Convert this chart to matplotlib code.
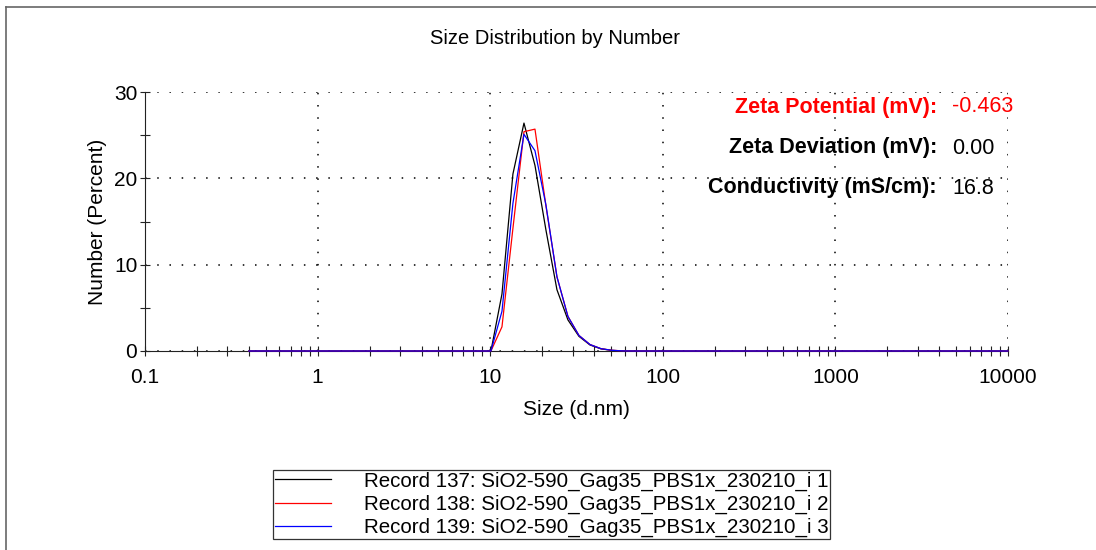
import matplotlib
matplotlib.use("Agg")
import matplotlib.pyplot as plt
from matplotlib.lines import Line2D
import numpy as np

plt.rcParams['font.family'] = ['Liberation Sans', 'DejaVu Sans']

# Size bins (d.nm), Malvern 70-class scale
sizes = [0.4, 0.4632, 0.5365, 0.6213, 0.7195, 0.8332, 0.9649, 1.117, 1.294, 1.499,
         1.736, 2.01, 2.328, 2.696, 3.122, 3.615, 4.187, 4.849, 5.615, 6.503,
         7.531, 8.721, 10.1, 11.7, 13.54, 15.69, 18.17, 21.04, 24.36, 28.21,
         32.67, 37.84, 43.82, 50.75, 58.77, 68.06, 78.82, 91.28, 105.7, 122.4,
         141.8, 164.2, 190.1, 220.2, 255.0, 295.3, 342.0, 396.1, 458.7, 531.2,
         615.1, 712.4, 825.0, 955.4, 1106, 1281, 1484, 1718, 1990, 2305,
         2669, 3091, 3580, 4145, 4801, 5560, 6439, 7456, 8635, 10000]

# Non-zero part of each distribution (bins 11.7 ... 58.77), zeros elsewhere
rec137_peak = [6.6, 20.5, 26.4, 21.5, 14.0, 7.1, 3.6, 1.7, 0.7, 0.25, 0.07, 0.01]
rec138_peak = [2.8, 14.2, 25.4, 25.7, 16.8, 8.6, 4.0, 1.8, 0.75, 0.27, 0.08, 0.02]
rec139_peak = [4.6, 17.1, 25.1, 23.2, 16.9, 8.6, 4.0, 1.8, 0.75, 0.27, 0.08, 0.01]
peak_start = 23  # index of 11.7 nm bin

def full(peak):
    v = [0.0] * len(sizes)
    v[peak_start:peak_start + len(peak)] = peak
    return v

rec137 = full(rec137_peak)
rec138 = full(rec138_peak)
rec139 = full(rec139_peak)

labels = ["Record 137: SiO2-590_Gag35_PBS1x_230210_i 1",
          "Record 138: SiO2-590_Gag35_PBS1x_230210_i 2",
          "Record 139: SiO2-590_Gag35_PBS1x_230210_i 3"]
colors = ["#000000", "#ff0000", "#0000ff"]

xticks = [0.1, 1, 10, 100, 1000, 10000]
xticklabels = ["0.1", "1", "10", "100", "1000", "10000"]
yticks = [0, 10, 20, 30]

info_labels = ["Zeta Potential (mV):", "Zeta Deviation (mV):", "Conductivity (mS/cm):"]
info_values = ["-0.463", "0.00", "16.8"]
info_colors = ["#ff0000", "#000000", "#000000"]

W, H = 1096, 550
fig = plt.figure(figsize=(W / 100, H / 100), dpi=100)
ax = fig.add_axes([145 / W, 1 - 351 / H, (1008 - 145) / W, (351 - 92) / H])

for vals, c, lab in zip([rec137, rec138, rec139], colors, labels):
    ax.plot(sizes, vals, color=c, lw=0.9, label=lab, zorder=3, clip_on=False)

ax.set_xscale('log')
ax.set_xlim(0.1, 10000)
ax.set_ylim(0, 30)
ax.set_xticks(xticks)
ax.set_xticklabels(xticklabels)
ax.set_yticks(yticks)
ax.set_yticks([5, 15, 25], minor=True)
ax.xaxis.set_minor_locator(matplotlib.ticker.LogLocator(base=10, subs=np.arange(2, 10)))
ax.xaxis.set_minor_formatter(matplotlib.ticker.NullFormatter())

ax.tick_params(axis='both', which='both', direction='inout', length=7, width=0.8,
               color='#222222', labelsize=15, pad=2)
ax.tick_params(axis='x', which='major', pad=9)

for s in ['top', 'right']:
    ax.spines[s].set_visible(False)
for s in ['left', 'bottom']:
    ax.spines[s].set_color('#222222')
    ax.spines[s].set_linewidth(0.8)

ax.grid(True, which='major', color='black', linestyle=(0, (1, 7)), linewidth=1.1)
ax.set_axisbelow(True)

fig.text(555 / W, 1 - 38 / H, "Size Distribution by Number", fontsize=14.5,
         ha='center', va='center')
ax.set_xlabel("Size (d.nm)", fontsize=15, labelpad=9)
ax.set_ylabel("Number (Percent)", fontsize=15, labelpad=5)

ys = [107, 148, 188]
for lab, val, c, y in zip(info_labels, info_values, info_colors, ys):
    fig.text(937 / W, 1 - y / H, lab, color=c, fontsize=15.5, fontweight='bold',
             ha='right', va='center')
    fig.text(952 / W, 1 - y / H, val, color=c, fontsize=15.5, ha='left', va='center')

leg = ax.legend(loc='lower left', bbox_to_anchor=(273 / W, 1 - 539 / H),
                bbox_transform=fig.transFigure, fontsize=14.8, frameon=True,
                fancybox=False, edgecolor='#333333', framealpha=1,
                handlelength=2.75, handletextpad=1.6, labelspacing=0.2,
                borderpad=0.08, borderaxespad=0)
leg.get_frame().set_linewidth(0.9)
for h in leg.get_lines():
    h.set_linewidth(0.9)

# Outer frame lines (left and top)
fig.add_artist(Line2D([6 / W, 6 / W], [0, 1 - 7 / H], transform=fig.transFigure,
                      color='#666666', lw=1.2))
fig.add_artist(Line2D([6 / W, 1], [1 - 7 / H, 1 - 7 / H], transform=fig.transFigure,
                      color='#666666', lw=1.2))

fig.savefig("out.png", dpi=100)
